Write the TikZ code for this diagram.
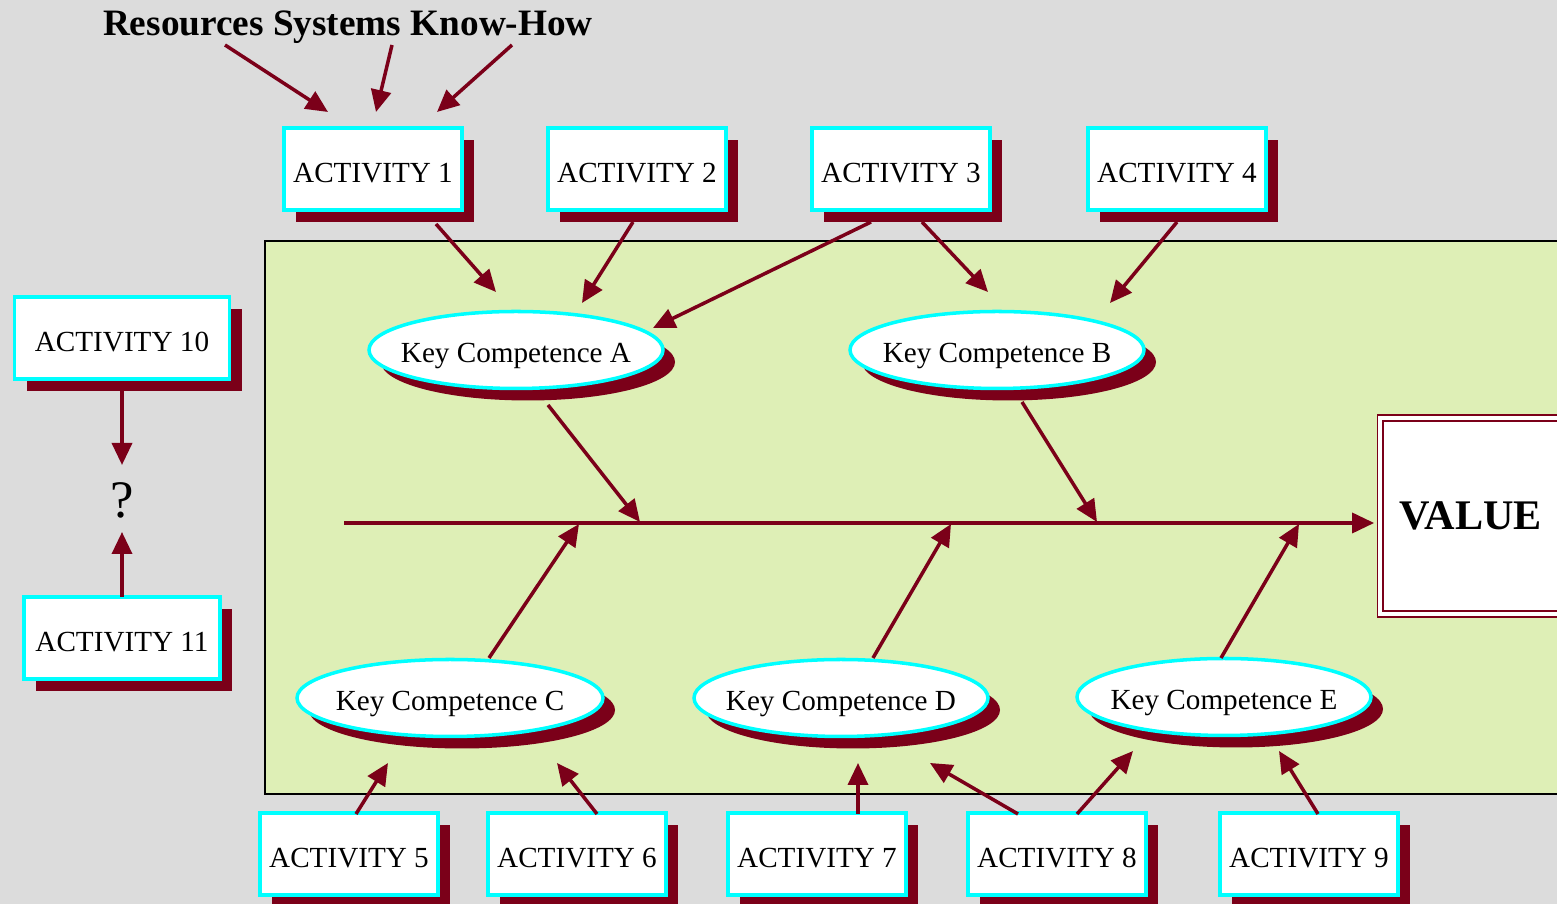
\documentclass[tikz,border=0pt]{standalone}
\usepackage{fontspec}
\setmainfont{Liberation Serif}
\usetikzlibrary{arrows.meta,positioning,shapes.geometric,shadows,calc}
\definecolor{dred}{HTML}{7B0019}
\definecolor{lime}{HTML}{DEEFB6}
\definecolor{bggray}{HTML}{DCDCDC}
\definecolor{aqua}{HTML}{00FFFF}
\newcommand{\nobox}[1]{\makebox[0pt]{#1}}

\begin{document}
\begin{tikzpicture}[
 x=0.1mm,y=-0.1mm,
 shade/.style={drop shadow={shadow xshift=1.2mm,shadow yshift=-1.2mm,fill=dred,opacity=1}},
 act/.style={draw=aqua,line width=1pt,fill=white,minimum width=17.8mm,minimum height=8.2mm,inner sep=0pt,text height=2.8mm,text depth=0pt,font=\fontsize{8.3}{10}\selectfont,shade},
 comp/.style={ellipse,draw=aqua,line width=1pt,fill=white,minimum width=29.4mm,minimum height=7.7mm,inner sep=0pt,text height=2.6mm,text depth=0pt,font=\fontsize{8.3}{10}\selectfont,shade},
 arr/.style={-{Triangle[length=2.2mm,width=2mm]},line width=1pt,draw=dred}
]
\clip (0,0) rectangle (1557,904);
\fill[bggray] (0,0) rectangle (1557,904);
\draw[fill=lime,line width=0.4pt] (265,241) rectangle (1620,794);
% title and activities
\node[font=\bfseries\fontsize{10.6}{12}\selectfont] (title) at (348,27) {Resources Systems Know-How};
\foreach \i/\x in {1/373,2/637,3/901,4/1177}{\node[act] (a\i) at (\x,169) {ACTIVITY \i};}
\foreach \i/\x in {5/349,6/577,7/817,8/1057,9/1309}{\node[act] (a\i) at (\x,854) {ACTIVITY \i};}
\node[act,minimum width=21.5mm] (a10) at (122,338) {ACTIVITY 10};
\node[act,minimum width=19.6mm] (a11) at (122,638) {ACTIVITY 11};
\node[font=\fontsize{15}{18}\selectfont] (q) at (122,500) {?};
% key competences
\node[comp] (kA) at (516,350) {\nobox{Key Competence A}};
\node[comp] (kB) at (997,350) {\nobox{Key Competence B}};
\node[comp,minimum width=30.6mm] (kC) at (450,698) {\nobox{Key Competence C}};
\node[comp] (kD) at (841,698) {\nobox{Key Competence D}};
\node[comp] (kE) at (1224,697) {\nobox{Key Competence E}};
\node[draw=dred,double=white,double distance=1pt,line width=0.5pt,fill=white,minimum width=18.2mm,minimum height=19.6mm,font=\bfseries\fontsize{12}{14}\selectfont] (value) at (1471,516) {VALUE};
% spine
\coordinate (spine) at (344,523);
\coordinate (pA) at (640,522);
\coordinate (pB) at (1097,522);
\coordinate (pC) at (579,524);
\coordinate (pD) at (951,524);
\coordinate (pE) at (1299,524);
\draw[arr,shorten >=0.5mm] (spine) -- (spine -| value.west);
% arrows
\draw[arr] ($(title)+(-123,18)$) -- ($(a1)+(-45,-57)$);
\draw[arr] ($(title)+(44,18)$) -- ($(a1)+(3,-57)$);
\draw[arr] ($(title)+(164,18)$) -- ($(a1)+(64,-57)$);
\draw[arr] ($(a1)+(63,55)$) -- ($(kA)+(-20,-58)$);
\draw[arr] ($(a2)+(-4,53)$) -- ($(kA)+(66,-47)$);
\draw[arr] ($(a3)+(-30,53)$) -- ($(kA)+(137,-22)$);
\draw[arr] ($(a3)+(21,53)$) -- ($(kB)+(-9,-58)$);
\draw[arr] ($(a4)+(0,53)$) -- ($(kB)+(113,-47)$);
\draw[arr] ($(kA)+(32,55)$) -- (pA);
\draw[arr] ($(kB)+(25,52)$) -- (pB);
\draw[arr] ($(kC)+(39,-40)$) -- (pC);
\draw[arr] ($(kD)+(32,-40)$) -- (pD);
\draw[arr] ($(kE)+(-3,-39)$) -- (pE);
\draw[arr] ($(a5)+(7,-40)$) -- ($(kC)+(-62,65)$);
\draw[arr] ($(a6)+(20,-40)$) -- ($(kC)+(107,65)$);
\draw[arr] ($(a7)+(41,-40)$) -- ($(kD)+(17,65)$);
\draw[arr] ($(a8)+(-39,-40)$) -- ($(kD)+(89,65)$);
\draw[arr] ($(a8)+(20,-40)$) -- ($(kE)+(-91,54)$);
\draw[arr] ($(a9)+(9,-40)$) -- ($(kE)+(55,54)$);
\draw[arr] ($(a10)+(0,52)$) -- ($(q)+(0,-35)$);
\draw[arr] ($(a11)+(0,-41)$) -- ($(q)+(0,32)$);
\end{tikzpicture}
\end{document}
